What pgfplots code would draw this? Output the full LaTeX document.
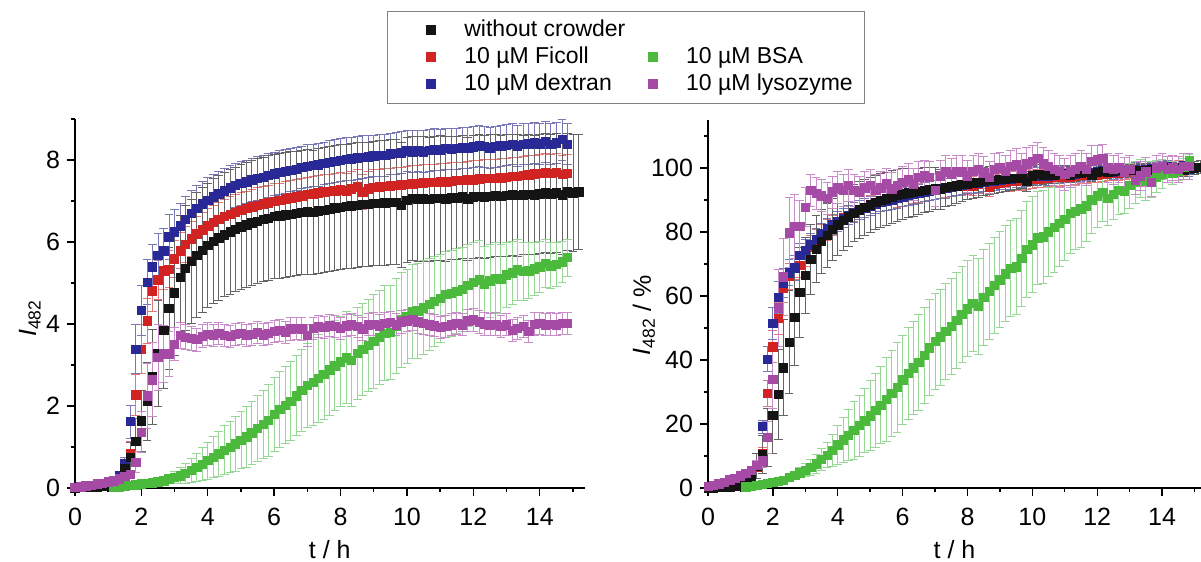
\documentclass[border=0pt]{standalone}
\usepackage{pgfplots}
\usepackage{pgfplotstable}
\usepackage{fontspec}
\setmainfont{Liberation Sans}
\pgfplotsset{compat=1.18}

\newcommand\fs{\fontsize{11.5}{13.8}\selectfont}
\newcommand\ft{\fontsize{12.5}{15}\selectfont}

\definecolor{ck}{RGB}{20,20,20}
\definecolor{cr}{RGB}{210,35,35}
\definecolor{cb}{RGB}{40,40,150}
\definecolor{cg}{RGB}{75,185,60}
\definecolor{cp}{RGB}{165,75,165}
\definecolor{ek}{RGB}{100,100,100}
\definecolor{er}{RGB}{225,120,120}
\definecolor{eb}{RGB}{120,120,185}
\definecolor{eg}{RGB}{150,215,150}
\definecolor{ep}{RGB}{200,140,200}

% absolute intensity, columns: t, black, red, blue, green, purple (value + error)
\pgfplotstableread{
t     k    ke   r    re   b    be   g    ge   p    pe
0.00  0.00 0.00 0.00 0.00 0.00 0.00 nan  nan  0.02 0.02
0.17  0.01 0.00 0.01 0.01 0.01 0.01 nan  nan  0.03 0.02
0.33  0.02 0.00 0.02 0.01 0.02 0.01 nan  nan  0.05 0.02
0.50  0.02 0.01 0.03 0.01 0.03 0.01 nan  nan  0.07 0.03
0.67  0.03 0.01 0.04 0.02 0.04 0.02 nan  nan  0.10 0.03
0.83  0.04 0.01 0.05 0.02 0.06 0.02 nan  nan  0.12 0.03
1.00  0.06 0.02 0.08 0.03 0.10 0.03 nan  nan  0.15 0.04
1.17  0.10 0.05 0.15 0.05 0.18 0.05 0.02 0.01 0.18 0.04
1.33  0.22 0.10 0.30 0.08 0.30 0.08 0.03 0.01 0.22 0.05
1.50  0.48 0.22 0.50 0.15 0.60 0.15 0.05 0.02 0.28 0.06
1.67  0.75 0.35 0.83 0.30 1.62 0.40 0.06 0.02 0.34 0.10
1.83  1.14 0.55 2.27 0.50 3.39 0.60 0.08 0.03 0.63 0.25
2.00  1.64 0.75 3.39 0.60 4.33 0.60 0.10 0.03 1.36 0.50
2.17  2.11 0.95 4.08 0.55 5.02 0.55 0.11 0.04 2.25 0.80
2.33  2.71 1.15 4.81 0.50 5.40 0.55 0.13 0.05 2.64 0.90
2.50  3.28 1.30 5.08 0.48 5.67 0.55 0.15 0.06 3.19 0.80
2.67  3.84 1.42 5.30 0.46 5.79 0.55 0.18 0.08 3.27 0.70
2.83  4.38 1.48 5.34 0.45 6.13 0.55 0.22 0.10 3.27 0.55
3.00  4.76 1.52 5.59 0.45 6.25 0.55 0.26 0.15 3.51 0.40
3.17  5.14 1.52 5.79 0.44 6.40 0.55 0.30 0.20 3.72 0.32
3.33  5.36 1.52 5.95 0.44 6.55 0.55 0.36 0.25 3.68 0.30
3.50  5.53 1.52 6.08 0.43 6.70 0.55 0.43 0.30 3.65 0.30
3.67  5.68 1.52 6.20 0.43 6.82 0.55 0.50 0.35 3.62 0.28
3.83  5.80 1.52 6.30 0.42 6.93 0.55 0.58 0.40 3.70 0.28
4.00  5.92 1.52 6.40 0.42 7.02 0.55 0.67 0.45 3.75 0.28
4.17  6.02 1.52 6.48 0.42 7.10 0.54 0.75 0.50 3.72 0.27
4.33  6.10 1.52 6.55 0.42 7.18 0.54 0.83 0.55 3.78 0.27
4.50  6.18 1.52 6.62 0.42 7.25 0.54 0.92 0.60 3.72 0.27
4.67  6.25 1.52 6.68 0.42 7.32 0.54 1.00 0.63 3.70 0.27
4.83  6.31 1.52 6.73 0.42 7.38 0.53 1.08 0.67 3.75 0.27
5.00  6.37 1.52 6.78 0.42 7.43 0.53 1.17 0.70 3.78 0.27
5.17  6.42 1.52 6.82 0.42 7.47 0.53 1.25 0.74 3.72 0.27
5.33  6.47 1.52 6.86 0.42 7.52 0.53 1.35 0.77 3.75 0.27
5.50  6.51 1.52 6.90 0.42 7.55 0.53 1.45 0.80 3.80 0.27
5.67  6.55 1.52 6.93 0.42 7.58 0.53 1.55 0.84 3.74 0.27
5.83  6.58 1.52 6.96 0.42 7.62 0.53 1.65 0.87 3.78 0.27
6.00  6.62 1.52 7.00 0.42 7.66 0.53 1.80 0.90 3.82 0.27
6.17  6.64 1.52 7.02 0.42 7.70 0.53 1.92 0.92 3.85 0.27
6.33  6.66 1.52 7.05 0.42 7.72 0.53 2.02 0.94 3.80 0.27
6.50  6.68 1.52 7.08 0.42 7.75 0.52 2.12 0.96 3.88 0.27
6.67  6.70 1.52 7.10 0.42 7.78 0.52 2.25 0.98 3.90 0.27
6.83  6.72 1.52 7.13 0.42 7.82 0.52 2.38 1.00 3.88 0.27
7.00  6.74 1.52 7.16 0.42 7.85 0.52 2.50 1.02 3.72 0.27
7.17  6.72 1.52 7.18 0.42 7.87 0.52 2.58 1.05 3.90 0.27
7.33  6.76 1.52 7.20 0.42 7.88 0.52 2.68 1.07 3.95 0.27
7.50  6.78 1.52 7.22 0.42 7.92 0.52 2.78 1.10 3.92 0.27
7.67  6.80 1.52 7.24 0.42 7.95 0.52 2.88 1.10 3.96 0.27
7.83  6.83 1.52 7.25 0.42 7.97 0.52 2.98 1.10 3.95 0.27
8.00  6.85 1.52 7.27 0.42 8.00 0.52 3.08 1.10 3.90 0.27
8.17  6.87 1.52 7.25 0.42 8.02 0.52 3.18 1.12 3.96 0.27
8.33  6.88 1.52 7.30 0.42 8.03 0.52 3.12 1.12 3.98 0.27
8.50  6.90 1.52 7.35 0.42 8.05 0.52 3.28 1.12 3.94 0.27
8.67  6.92 1.52 7.22 0.42 8.07 0.52 3.38 1.12 3.88 0.27
8.83  6.92 1.52 7.30 0.42 8.08 0.51 3.48 1.12 3.98 0.27
9.00  6.94 1.52 7.33 0.43 8.10 0.51 3.58 1.15 4.00 0.27
9.17  6.95 1.52 7.35 0.43 8.12 0.51 3.68 1.15 3.96 0.27
9.33  6.96 1.52 7.36 0.43 8.12 0.51 3.78 1.15 4.02 0.27
9.50  6.97 1.52 7.37 0.43 8.15 0.51 3.80 1.15 4.04 0.27
9.67  6.97 1.52 7.38 0.43 8.16 0.51 3.95 1.15 3.98 0.27
9.83  6.90 1.52 7.40 0.43 8.18 0.51 4.10 1.15 4.05 0.27
10.00 7.02 1.52 7.41 0.44 8.22 0.51 4.18 1.15 4.08 0.27
10.17 7.06 1.52 7.42 0.44 8.20 0.51 4.30 1.15 4.12 0.27
10.33 7.05 1.52 7.43 0.44 8.22 0.51 4.32 1.15 4.05 0.27
10.50 7.05 1.52 7.44 0.44 8.20 0.51 4.40 1.14 4.02 0.27
10.67 7.04 1.52 7.45 0.44 8.24 0.51 4.48 1.12 3.98 0.27
10.83 7.06 1.52 7.46 0.44 8.25 0.51 4.55 1.10 3.96 0.27
11.00 7.07 1.52 7.47 0.45 8.25 0.50 4.62 1.08 3.92 0.27
11.17 7.05 1.52 7.47 0.45 8.28 0.50 4.72 1.06 3.95 0.27
11.33 7.08 1.50 7.48 0.45 8.26 0.50 4.75 1.05 3.98 0.27
11.50 7.08 1.50 7.50 0.45 8.28 0.50 4.80 1.04 4.02 0.27
11.67 7.10 1.50 7.50 0.45 8.30 0.50 4.85 1.02 3.98 0.27
11.83 7.05 1.50 7.52 0.45 8.30 0.50 4.95 1.00 4.08 0.27
12.00 7.10 1.50 7.52 0.46 8.32 0.50 5.02 0.98 4.10 0.27
12.17 7.12 1.50 7.54 0.46 8.35 0.50 5.08 0.95 4.05 0.27
12.33 7.10 1.50 7.55 0.46 8.33 0.50 4.98 0.92 4.00 0.27
12.50 7.12 1.50 7.56 0.46 8.30 0.50 5.05 0.90 3.98 0.27
12.67 7.14 1.48 7.56 0.46 8.33 0.50 5.12 0.87 4.00 0.27
12.83 7.12 1.48 7.57 0.46 8.35 0.50 5.10 0.84 3.95 0.27
13.00 7.14 1.48 7.58 0.46 8.36 0.50 5.20 0.80 3.98 0.27
13.17 7.15 1.48 7.60 0.46 8.38 0.50 5.25 0.77 3.85 0.27
13.33 7.14 1.48 7.60 0.46 8.35 0.50 5.32 0.74 3.90 0.27
13.50 7.15 1.46 7.62 0.46 8.38 0.50 5.28 0.71 3.95 0.27
13.67 7.16 1.46 7.64 0.46 8.40 0.50 5.30 0.68 3.82 0.27
13.83 7.15 1.46 7.66 0.46 8.42 0.50 5.35 0.65 4.00 0.27
14.00 7.18 1.45 7.68 0.46 8.40 0.50 5.40 0.62 4.02 0.27
14.17 7.20 1.45 7.70 0.46 8.45 0.50 5.48 0.59 3.98 0.27
14.33 7.18 1.45 7.68 0.46 8.38 0.50 5.42 0.56 4.00 0.27
14.50 7.20 1.45 7.70 0.46 8.42 0.50 5.45 0.53 3.98 0.27
14.67 7.15 1.45 7.65 0.46 8.50 0.50 5.52 0.50 4.02 0.27
14.83 7.22 1.42 7.68 0.46 8.38 0.50 5.62 0.45 4.02 0.27
15.00 7.20 1.42 nan  nan  nan  nan  nan  nan  nan  nan
15.17 7.22 1.40 nan  nan  nan  nan  nan  nan  nan  nan
}\absdata

% normalised intensity in %
\pgfplotstableread{
t     k     ke   r     re   b     be   g     ge   p     pe
0.00  0.0   0.0  0.0   0.0  0.0   0.0  nan   nan  0.5   0.5
0.17  0.1   0.0  0.1   0.1  0.1   0.1  nan   nan  0.8   0.5
0.33  0.3   0.0  0.3   0.1  0.2   0.1  nan   nan  1.3   0.5
0.50  0.3   0.1  0.4   0.2  0.4   0.2  nan   nan  1.8   0.6
0.67  0.4   0.1  0.5   0.2  0.5   0.2  nan   nan  2.5   0.7
0.83  0.6   0.2  0.7   0.3  0.7   0.3  nan   nan  3.0   0.8
1.00  0.8   0.3  1.0   0.4  1.2   0.4  nan   nan  3.8   0.9
1.17  1.4   1.0  2.0   0.6  2.1   0.6  0.4   0.2  4.5   1.0
1.33  3.1   2.0  3.9   0.8  3.6   0.8  0.5   0.2  5.5   1.2
1.50  6.9   4.0  6.5   1.0  7.1   1.0  0.9   0.3  7.0   1.5
1.67  10.4  6.0  10.8  2.0  19.2  2.0  1.1   0.3  8.5   2.0
1.83  15.8  9.0  29.6  4.0  40.3  4.0  1.5   0.4  15.8  5.0
2.00  22.8  12.0 44.1  5.0  51.4  5.0  1.8   0.5  34.0  9.0
2.17  29.3  14.0 53.1  5.0  59.6  5.0  2.0   0.6  56.3  12.0
2.33  37.6  15.0 62.6  4.5  64.1  4.5  2.4   0.8  66.0  12.0
2.50  45.6  16.0 66.1  4.0  67.3  4.0  3.3   1.0  79.8  11.0
2.67  53.3  15.0 69.0  3.8  68.8  3.8  4.0   1.3  81.8  10.0
2.83  61.1  14.0 69.5  3.6  72.8  3.6  4.8   1.6  81.8  8.0
3.00  66.4  12.0 72.8  3.5  74.2  3.5  5.6   2.0  87.8  6.0
3.17  71.5  11.0 75.4  3.4  76.0  3.4  6.5   2.5  93.0  5.0
3.33  74.6  10.5 77.5  3.3  77.8  3.3  7.6   3.0  92.0  5.0
3.50  77.1  10.0 79.2  3.2  79.6  3.2  8.9   3.5  91.3  5.0
3.67  79.0  10.0 80.7  3.2  81.0  3.2  10.3  4.0  90.5  5.0
3.83  80.8  9.8  82.0  3.1  82.3  3.1  11.8  5.0  92.5  5.0
4.00  82.3  9.6  83.3  3.1  83.4  3.1  13.5  6.0  93.8  5.0
4.17  83.7  9.4  84.4  3.0  84.3  3.0  15.0  7.0  93.0  5.0
4.33  84.8  9.2  85.3  3.0  85.3  3.0  16.5  8.0  94.5  5.0
4.50  85.9  9.0  86.2  3.0  86.1  3.0  18.0  9.0  93.0  5.0
4.67  86.9  8.9  87.0  3.0  86.9  3.0  19.5  9.5  92.5  5.0
4.83  87.7  8.8  87.6  3.0  87.6  3.0  21.0  10.0 93.8  5.0
5.00  88.5  8.6  88.3  3.0  88.2  3.0  22.6  11.0 94.5  5.0
5.17  89.2  8.5  88.8  3.0  88.7  3.0  24.2  11.5 93.0  5.0
5.33  89.9  8.4  89.3  3.0  89.3  3.0  25.9  12.0 93.8  5.0
5.50  90.4  8.3  89.8  3.0  89.7  3.0  27.7  13.0 95.0  5.0
5.67  91.0  8.2  90.2  3.0  90.0  3.0  29.6  13.5 93.5  5.0
5.83  91.4  8.1  90.6  3.0  90.5  3.0  31.5  14.0 94.5  5.0
6.00  91.9  8.0  91.1  3.0  91.0  3.0  33.8  14.0 95.5  5.0
6.17  92.2  7.8  91.4  3.0  91.4  3.0  35.8  14.5 96.3  5.0
6.33  92.5  7.5  91.8  3.0  91.7  3.0  37.5  14.5 95.0  5.0
6.50  92.8  7.2  92.2  3.0  92.0  3.0  39.3  15.0 97.0  5.0
6.67  93.1  7.0  92.4  3.0  92.4  3.0  41.5  15.0 97.5  5.0
6.83  93.3  6.8  92.8  3.0  92.9  3.0  43.8  15.0 97.0  5.0
7.00  93.6  6.5  93.2  3.0  93.2  3.0  45.8  15.0 93.0  5.0
7.17  93.3  6.2  93.5  3.0  93.5  3.0  47.2  15.0 97.5  5.0
7.33  93.9  6.0  93.8  3.0  93.6  3.0  48.9  15.0 98.8  5.0
7.50  94.2  5.8  94.0  3.0  94.1  3.0  50.6  15.0 98.0  5.0
7.67  94.4  5.5  94.3  3.0  94.4  3.0  52.4  15.0 99.0  5.0
7.83  94.9  5.2  94.4  3.0  94.7  3.0  54.2  15.0 98.8  5.0
8.00  95.1  5.0  94.7  3.0  95.0  3.0  56.0  15.0 97.5  5.0
8.17  95.4  4.8  94.4  3.0  95.2  3.0  57.8  15.0 99.0  5.0
8.33  95.6  4.7  95.1  3.0  95.4  3.0  56.7  15.0 99.5  5.0
8.50  95.8  4.5  95.7  3.0  95.6  3.0  59.6  15.0 98.5  5.0
8.67  96.1  4.3  94.0  3.0  95.8  3.0  61.5  15.0 97.0  5.0
8.83  96.1  4.2  95.1  3.0  96.0  3.0  63.3  15.0 99.5  5.0
9.00  96.4  4.0  95.4  3.0  96.2  3.0  65.1  15.0 100.0 5.0
9.17  96.5  3.8  95.7  3.0  96.4  3.0  66.9  15.0 99.0  5.0
9.33  96.7  3.7  95.8  3.0  96.4  3.0  68.7  15.0 100.5 5.0
9.50  96.8  3.5  96.0  3.0  96.8  3.0  69.1  15.0 101.0 5.0
9.67  96.8  3.3  96.1  3.0  96.9  3.0  71.8  15.0 99.5  5.0
9.83  95.8  3.2  96.4  3.0  97.1  3.0  74.5  15.0 101.3 5.0
10.00 97.5  3.0  96.5  2.8  97.6  2.8  76.0  15.0 102.0 5.0
10.17 98.1  3.0  96.6  2.8  97.4  2.8  78.2  14.5 103.0 5.0
10.33 97.9  2.9  96.7  2.8  97.6  2.8  78.5  14.5 101.3 5.0
10.50 97.9  2.8  96.9  2.8  97.4  2.8  80.0  14.0 100.5 5.0
10.67 97.8  2.7  97.0  2.8  97.9  2.8  81.5  14.0 99.5  5.0
10.83 98.1  2.6  97.1  2.8  98.0  2.8  82.7  13.5 99.0  5.0
11.00 98.2  2.5  97.3  2.6  98.0  2.6  84.0  13.0 98.0  5.0
11.17 97.9  2.5  97.3  2.6  98.3  2.6  85.8  12.5 98.8  5.0
11.33 98.3  2.4  97.4  2.6  98.1  2.6  86.4  12.0 99.5  5.0
11.50 98.3  2.3  97.7  2.6  98.3  2.6  87.3  12.0 100.5 5.0
11.67 98.6  2.2  97.7  2.5  98.6  2.5  88.2  11.0 99.5  5.0
11.83 97.9  2.1  97.9  2.5  98.6  2.5  90.0  10.5 102.0 5.0
12.00 98.6  2.0  97.9  2.4  98.8  2.4  91.3  10.0 102.5 4.5
12.17 98.9  2.0  98.2  2.4  99.2  2.4  92.4  9.0  103.0 4.5
12.33 98.6  2.0  98.3  2.3  98.9  2.3  90.5  8.5  100.0 4.5
12.50 98.9  2.0  98.4  2.3  98.6  2.3  91.8  8.0  99.5  4.5
12.67 99.2  2.0  98.4  2.2  98.9  2.2  93.1  7.5  100.0 4.5
12.83 98.9  2.0  98.6  2.2  99.2  2.2  92.7  7.0  98.8  4.5
13.00 99.2  2.0  98.7  2.1  99.3  2.1  94.5  7.0  99.5  4.5
13.17 99.3  2.0  99.0  2.1  99.5  2.1  95.5  6.5  96.3  4.5
13.33 99.2  2.0  99.0  2.0  99.2  2.0  96.7  6.0  97.5  4.5
13.50 99.3  2.0  99.2  2.0  99.5  2.0  96.0  6.0  98.8  4.5
13.67 99.4  2.0  99.5  2.0  99.8  2.0  96.4  5.5  95.5  4.5
13.83 99.3  2.0  99.7  2.0  100.0 2.0  97.3  5.0  100.0 4.0
14.00 99.7  2.0  100.0 2.0  99.8  2.0  98.2  4.5  100.5 4.0
14.17 100.0 2.0  100.3 2.0  100.4 2.0  99.6  4.0  99.5  4.0
14.33 99.7  2.0  100.0 2.0  99.5  2.0  98.5  3.5  100.0 4.0
14.50 100.0 2.0  100.3 2.0  100.0 2.0  99.1  3.0  99.5  4.0
14.67 99.3  2.0  99.6  2.0  100.9 2.0  100.4 2.5  100.5 4.0
14.83 100.3 2.0  100.0 2.0  99.5  2.0  102.2 2.0  100.5 4.0
15.00 100.0 2.0  nan   nan  nan   nan  nan   nan  nan   nan
15.17 100.3 2.0  nan   nan  nan   nan  nan   nan  nan   nan
}\reldata

\pgfplotsset{
  panel/.style={
    scale only axis,
    axis x line*=bottom, axis y line*=left,
    axis line style={line width=0.7pt},
    tick align=outside,
    major tick length=4pt, minor tick length=2.2pt,
    every tick/.style={line width=0.7pt, black},
    xmin=0, xtick={0,2,...,14}, minor xtick={1,3,...,15},
    tick label style={font=\ft},
    xticklabel shift=2.5pt,
    label style={font=\ft},
    /pgf/number format/assume math mode=true,
    xlabel={t / h},
    xlabel style={at={(axis description cs:0.5,-0.168)}, anchor=center},
    clip=false,
  },
  ser/.style n args={2}{
    only marks, mark=square*, mark size=2.1pt, color=#1,
    mark options={line width=0.3pt},
    forget plot,
    error bars/.cd, y dir=both, y explicit,
    error bar style={color=#2, line width=0.45pt},
    error mark options={rotate=90, mark size=2.2pt, color=#2, line width=0.45pt},
  },
}

\begin{document}
\begin{tikzpicture}
\path[use as bounding box] (-37.5pt,-37pt) rectangle (563pt,244pt);

\begin{axis}[
  panel,
  at={(0pt,0pt)}, anchor=south west,
  width=254.8pt, height=184.5pt,
  xmax=15.35, ymin=0, ymax=9,
  ytick={0,2,...,8}, minor ytick={1,3,5,7,9},
  ylabel={\textit{I}\textsubscript{482}},
  ylabel style={at={(axis description cs:-0.088,0.46)}, anchor=center},
  legend columns=2,
  legend image code/.code={\path (0pt,0pt) (9pt,0pt); \draw[#1, only marks] plot coordinates {(4.5pt,0pt)};},
  legend style={
    at={(0.6118,1.2938)}, anchor=north west,
    draw={rgb,255:red,130;green,130;blue,130}, line width=0.6pt,
    inner xsep=17pt, inner ysep=4pt,
    font=\fs, row sep=2.5pt,
    nodes={inner sep=0pt, text height=8.5pt, text depth=2.5pt},
    /tikz/every odd column/.append style={column sep=11.9pt},
    /tikz/every even column/.append style={column sep=8.85pt},
  },
  legend cell align=left,
]
\addplot[ser={cr}{er}] table[x=t, y=r, y error=re] {\absdata};
\addplot[ser={cb}{eb}] table[x=t, y=b, y error=be] {\absdata};
\addplot[ser={ck}{ek}] table[x=t, y=k, y error=ke] {\absdata};
\addplot[ser={cg}{eg}] table[x=t, y=g, y error=ge] {\absdata};
\addplot[ser={cp}{ep}] table[x=t, y=p, y error=pe] {\absdata};

\addlegendimage{mark=square*, mark size=2.25pt, color=ck}
\addlegendentry{without crowder}
\addlegendimage{empty legend}
\addlegendentry{}
\addlegendimage{mark=square*, mark size=2.25pt, color=cr}
\addlegendentry{10 µM Ficoll}
\addlegendimage{mark=square*, mark size=2.25pt, color=cg}
\addlegendentry{10 µM BSA\kern-11pt\hbox{}}
\addlegendimage{mark=square*, mark size=2.25pt, color=cb}
\addlegendentry{10 µM dextran}
\addlegendimage{mark=square*, mark size=2.25pt, color=cp}
\addlegendentry{10 µM lysozyme\kern-11pt\hbox{}}
\end{axis}

\begin{axis}[
  panel,
  at={(316.5pt,0pt)}, anchor=south west,
  width=246.5pt, height=184pt,
  xmax=15.2, ymin=0, ymax=115,
  ytick={0,20,...,100}, minor ytick={10,30,...,110},
  ylabel={\textit{I}\textsubscript{482} / \%},
  ylabel style={at={(axis description cs:-0.13,0.47)}, anchor=center},
]
\addplot[ser={cr}{er}] table[x=t, y=r, y error=re] {\reldata};
\addplot[ser={cb}{eb}] table[x=t, y=b, y error=be] {\reldata};
\addplot[ser={ck}{ek}] table[x=t, y=k, y error=ke] {\reldata};
\addplot[ser={cg}{eg}] table[x=t, y=g, y error=ge] {\reldata};
\addplot[ser={cp}{ep}] table[x=t, y=p, y error=pe] {\reldata};
\end{axis}
\end{tikzpicture}
\end{document}
